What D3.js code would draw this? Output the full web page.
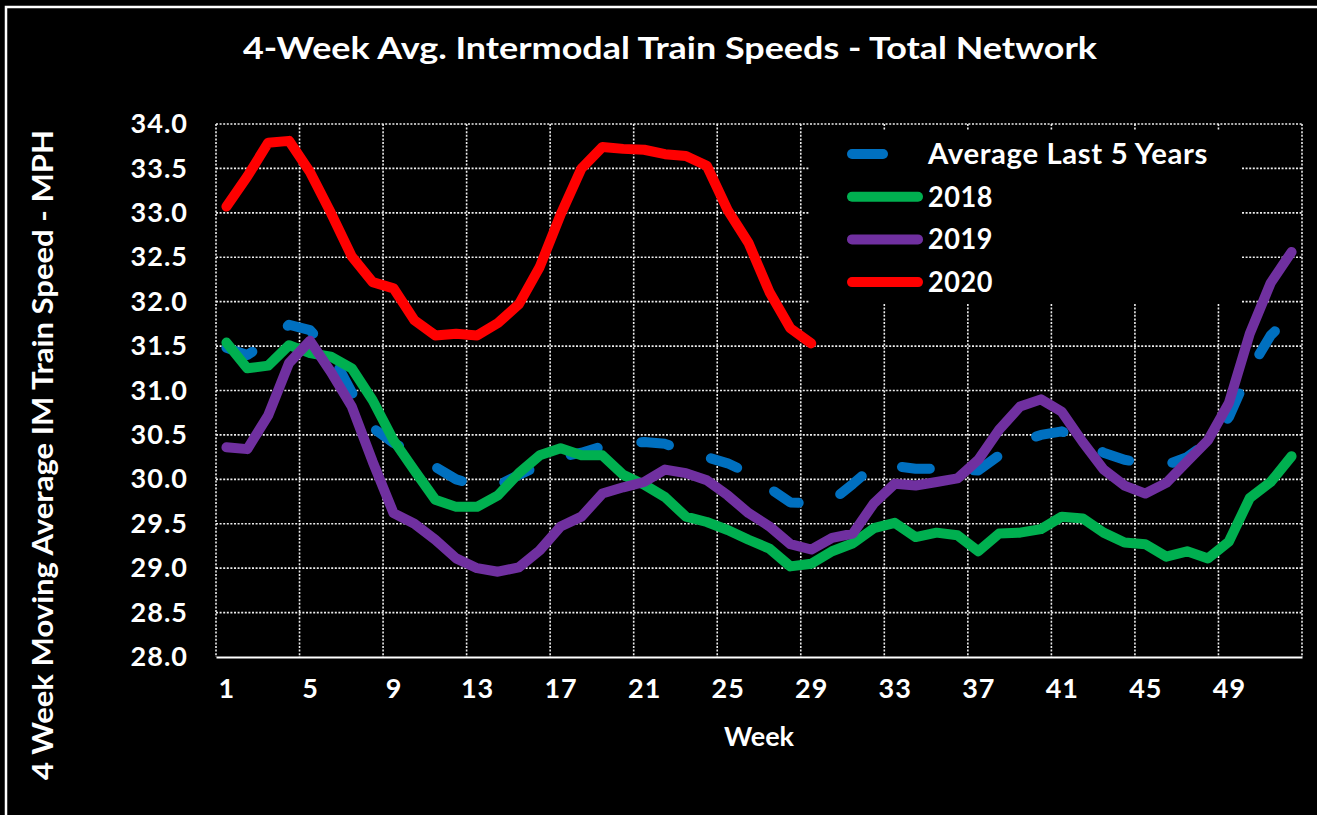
<!DOCTYPE html>
<html>
<head>
<meta charset="utf-8">
<script src="https://cdn.jsdelivr.net/npm/d3@7/dist/d3.min.js"></script>
<style>
  body { margin: 0; background: #000; }
  svg { display: block; }
  text { font-family: Lato, "Open Sans", sans-serif; font-weight: bold; fill: #fff; }
</style>
</head>
<body>
<div class="chart"></div>
<script>
// 4-week avg intermodal train speeds
var weeks = d3.range(1, 53);
var xTickWeeks = [1, 5, 9, 13, 17, 21, 25, 29, 33, 37, 41, 45, 49];
var yTicks = [28, 28.5, 29, 29.5, 30, 30.5, 31, 31.5, 32, 32.5, 33, 33.5, 34];

var avg5 = [31.48, 31.40, 31.55, 31.74, 31.68, 31.42, 30.98, 30.58, 30.41, 30.28,
  30.14, 30.00, 29.93, 29.93, 30.05, 30.16, 30.25, 30.30, 30.37, 30.40,
  30.42, 30.40, 30.31, 30.25, 30.18, 30.07, 29.90, 29.74, 29.73, 29.76,
  29.95, 30.15, 30.15, 30.12, 30.12, 30.11, 30.10, 30.27, 30.42, 30.50,
  30.54, 30.44, 30.30, 30.22, 30.18, 30.16, 30.25, 30.42, 30.70, 31.23,
  31.62, 31.85];
var y2018 = [31.54, 31.25, 31.28, 31.51, 31.42, 31.38, 31.25, 30.89, 30.44, 30.10,
  29.77, 29.69, 29.69, 29.82, 30.07, 30.27, 30.35, 30.27, 30.27, 30.05,
  29.94, 29.80, 29.58, 29.52, 29.43, 29.32, 29.22, 29.02, 29.05, 29.19,
  29.28, 29.45, 29.51, 29.35, 29.40, 29.37, 29.19, 29.39, 29.40, 29.44,
  29.58, 29.56, 29.40, 29.29, 29.27, 29.13, 29.19, 29.11, 29.30, 29.79,
  29.97, 30.26];
var y2019 = [30.36, 30.34, 30.72, 31.31, 31.56, 31.21, 30.82, 30.20, 29.62, 29.50,
  29.32, 29.11, 29.00, 28.96, 29.01, 29.20, 29.47, 29.58, 29.84, 29.91,
  29.97, 30.11, 30.07, 29.99, 29.82, 29.62, 29.47, 29.27, 29.21, 29.34,
  29.39, 29.73, 29.95, 29.93, 29.97, 30.01, 30.22, 30.56, 30.82, 30.90,
  30.76, 30.42, 30.11, 29.93, 29.84, 29.96, 30.20, 30.44, 30.86, 31.64,
  32.21, 32.56];
var y2020 = [33.07, 33.41, 33.79, 33.81, 33.46, 33.00, 32.51, 32.22, 32.15, 31.79,
  31.62, 31.64, 31.62, 31.76, 31.97, 32.39, 32.98, 33.50, 33.74, 33.72,
  33.71, 33.66, 33.64, 33.53, 33.03, 32.66, 32.11, 31.70, 31.53];

var seriesNames = ["Average Last 5 Years", "2018", "2019", "2020"];
var seriesColors = ["#0070C0", "#00B050", "#7030A0", "#FF0000"];
var seriesData = [avg5, y2018, y2019, y2020];

var svgWidth = 1317;
var svgHeight = 815;
var margin = { top: 124, right: 15, bottom: 158, left: 216 };
var width = svgWidth - margin.left - margin.right;
var height = svgHeight - margin.top - margin.bottom;

var svg = d3.select(".chart")
  .append("svg")
  .attr("width", svgWidth)
  .attr("height", svgHeight);

svg.append("rect")
  .attr("width", svgWidth).attr("height", svgHeight)
  .attr("fill", "#000");

// outer frame (runs off the right/bottom edge)
svg.append("rect")
  .attr("x", 6).attr("y", 7)
  .attr("width", 1400).attr("height", 900)
  .attr("fill", "none")
  .attr("stroke", "#fff")
  .attr("stroke-width", 2.5);

var chart = svg.append("g")
  .attr("transform", "translate(" + margin.left + "," + margin.top + ")");

var xBand = d3.scaleBand().domain(weeks).range([0, width]);
var xScale = d3.scalePoint().domain(weeks).range([0, width]).padding(0.5);
var yScale = d3.scaleLinear().domain([28, 34]).range([height, 0]);

// grid
var grid = chart.append("g");
grid.selectAll(".hgrid")
  .data(yTicks.slice(1))
  .enter().append("line")
  .attr("x1", 0).attr("x2", width)
  .attr("y1", function(d) { return yScale(d); })
  .attr("y2", function(d) { return yScale(d); })
  .attr("stroke", "#eee")
  .attr("stroke-width", 1.6)
  .attr("stroke-dasharray", "2,1.6");
grid.selectAll(".vgrid")
  .data(xTickWeeks.map(function(w) { return xBand(w); }).concat([width]))
  .enter().append("line")
  .attr("x1", function(d) { return d; })
  .attr("x2", function(d) { return d; })
  .attr("y1", 0).attr("y2", height)
  .attr("stroke", "#eee")
  .attr("stroke-width", 1.6)
  .attr("stroke-dasharray", "2,1.6");

// x axis
var bottomAxis = d3.axisBottom(xScale).tickValues(xTickWeeks).tickSize(0).tickPadding(22);
var xAxis = chart.append("g")
  .attr("transform", "translate(0," + height + ")")
  .call(bottomAxis);
xAxis.select(".domain").attr("stroke", "#fff").attr("stroke-width", 2);
xAxis.selectAll("text")
  .attr("font-size", "27px")
  .attr("font-family", "Lato, sans-serif")
  .attr("letter-spacing", "1px")
  .attr("fill", "#fff");

// y axis
var leftAxis = d3.axisLeft(yScale).tickValues(yTicks).tickSize(0).tickPadding(28)
  .tickFormat(d3.format(".1f"));
var yAxis = chart.append("g").call(leftAxis);
yAxis.select(".domain").remove();
yAxis.selectAll("text")
  .attr("font-size", "27px")
  .attr("font-family", "Lato, sans-serif")
  .attr("letter-spacing", "1px")
  .attr("fill", "#fff");

// lines
var line = d3.line()
  .x(function(d, i) { return xScale(weeks[i]); })
  .y(function(d) { return yScale(d); });

seriesData.forEach(function(vals, i) {
  chart.append("path")
    .datum(vals)
    .attr("d", line)
    .attr("fill", "none")
    .attr("stroke", seriesColors[i])
    .attr("stroke-width", 10)
    .attr("stroke-linejoin", "round")
    .attr("stroke-linecap", "round")
    .attr("stroke-dasharray", i === 0 ? "28,44" : null);
});

// legend
var legend = svg.append("g").attr("transform", "translate(809,131)");
legend.append("rect")
  .attr("width", 432).attr("height", 172)
  .attr("fill", "#000");
var items = legend.selectAll(".item")
  .data(seriesNames)
  .enter().append("g")
  .attr("transform", function(d, i) { return "translate(0," + (23 + i * 42.7) + ")"; });
items.append("line")
  .attr("x1", 43).attr("x2", 109)
  .attr("stroke", function(d, i) { return seriesColors[i]; })
  .attr("stroke-width", 10)
  .attr("stroke-linecap", "round")
  .attr("stroke-dasharray", function(d, i) { return i === 0 ? "31,60" : null; });
items.append("text")
  .attr("x", 119)
  .attr("y", 10)
  .attr("font-size", "28px")
  .attr("letter-spacing", "0.6px")
  .attr("textLength", function(d, i) { return i === 0 ? 280 : 65; })
  .attr("lengthAdjust", "spacingAndGlyphs")
  .text(function(d) { return d; });

// titles
svg.append("text")
  .attr("x", 670).attr("y", 59)
  .attr("text-anchor", "middle")
  .attr("font-size", "30px")
  .attr("textLength", 854)
  .attr("lengthAdjust", "spacingAndGlyphs")
  .text("4-Week Avg. Intermodal Train Speeds - Total Network");

svg.append("text")
  .attr("x", 759).attr("y", 746)
  .attr("text-anchor", "middle")
  .attr("font-size", "27px")
  .text("Week");

svg.append("text")
  .attr("transform", "translate(53,455) rotate(-90)")
  .attr("text-anchor", "middle")
  .attr("font-size", "28px")
  .attr("textLength", 650)
  .attr("lengthAdjust", "spacingAndGlyphs")
  .text("4 Week Moving Average IM Train Speed - MPH");
</script>
</body>
</html>
